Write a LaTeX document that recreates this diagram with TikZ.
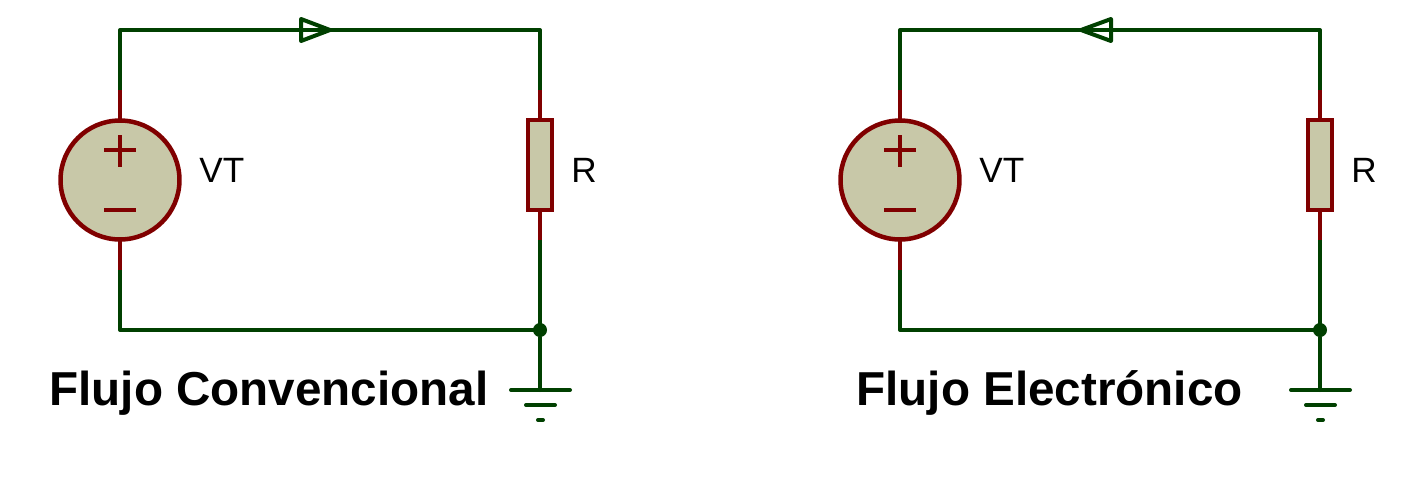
\documentclass[tikz,border=0pt]{standalone}
\usepackage{fontspec}
\setmainfont{Liberation Sans}
\definecolor{verde}{RGB}{0,64,0}
\definecolor{rojo}{RGB}{128,0,0}
\definecolor{relleno}{RGB}{200,200,168}
\tikzset{
    wire/.style={draw=verde,line width=0.08cm,line join=round,line cap=round},
    pin/.style={draw=rojo,line width=0.08cm},
    fuente/.style={circle,draw=rojo,fill=relleno,line width=0.09cm,inner sep=0pt,minimum size=2.38cm},
    resist/.style={rectangle,draw=rojo,fill=relleno,line width=0.08cm,inner sep=0pt,minimum width=0.48cm,minimum height=1.8cm},
    nudo/.style={circle,fill=verde,inner sep=0pt,minimum size=0.28cm},
    etiq/.style={inner sep=0pt,anchor=base west,font=\fontsize{20}{20}\selectfont},
    titulo/.style={inner sep=0pt,anchor=base west,font=\fontsize{27.1}{27.1}\selectfont\bfseries}
}
\begin{document}
\begin{tikzpicture}[x=0.02cm,y=-0.02cm]
    \useasboundingbox (0,0) rectangle (1410,480);
    \foreach \dx/\base/\tip/\tx/\nombre in {0/301/330/49/{Flujo Convencional},780/331/301/76/{Flujo Electrónico}} {
    \begin{scope}[xshift=\dx*0.02cm]
        \coordinate (arriba) at (120,30);
        \coordinate (abajo) at (120,330);
        \coordinate (derecha) at (540,30);
        \coordinate (p1) at (120,90);
        \coordinate (p2) at (120,270);
        \coordinate (r1) at (540,90);
        \coordinate (r2) at (540,240);
        \coordinate (tierra) at (540,390);
        \node[nudo] (union) at (540,330) {};
        % cables
        \draw[wire] (p1) -- (arriba) -- (derecha) -- (r1);
        \draw[wire] (p2) -- (abajo) -- (union.center) -- (r2);
        \draw[wire] (union) -- (tierra);
        % flecha
        \draw[wire] (\base,19) -- (\tip,30) -- (\base,41) -- cycle;
        % fuente
        \draw[pin] (p1) -- (p2);
        \node[fuente] (vt) at (120,180) {};
        \draw[pin] (120,135) -- (120,167);
        \draw[pin] (104,150) -- (136,150);
        \draw[pin] (104,210) -- (136,210);
        % resistencia
        \draw[pin] (r1) -- (r2);
        \node[resist] (res) at (540,165) {};
        % tierra
        \draw[wire] (511,390) -- (570,390);
        \draw[wire] (526,405) -- (555,405);
        \draw[wire] (538,420) -- (543,420);
        % textos
        \node[etiq] (lvt) at (199,182) {VT};
        \node[etiq] (lres) at (571,182) {R};
        \node[titulo] (tit) at (\tx,405) {\nombre};
    \end{scope}
    }
\end{tikzpicture}
\end{document}
